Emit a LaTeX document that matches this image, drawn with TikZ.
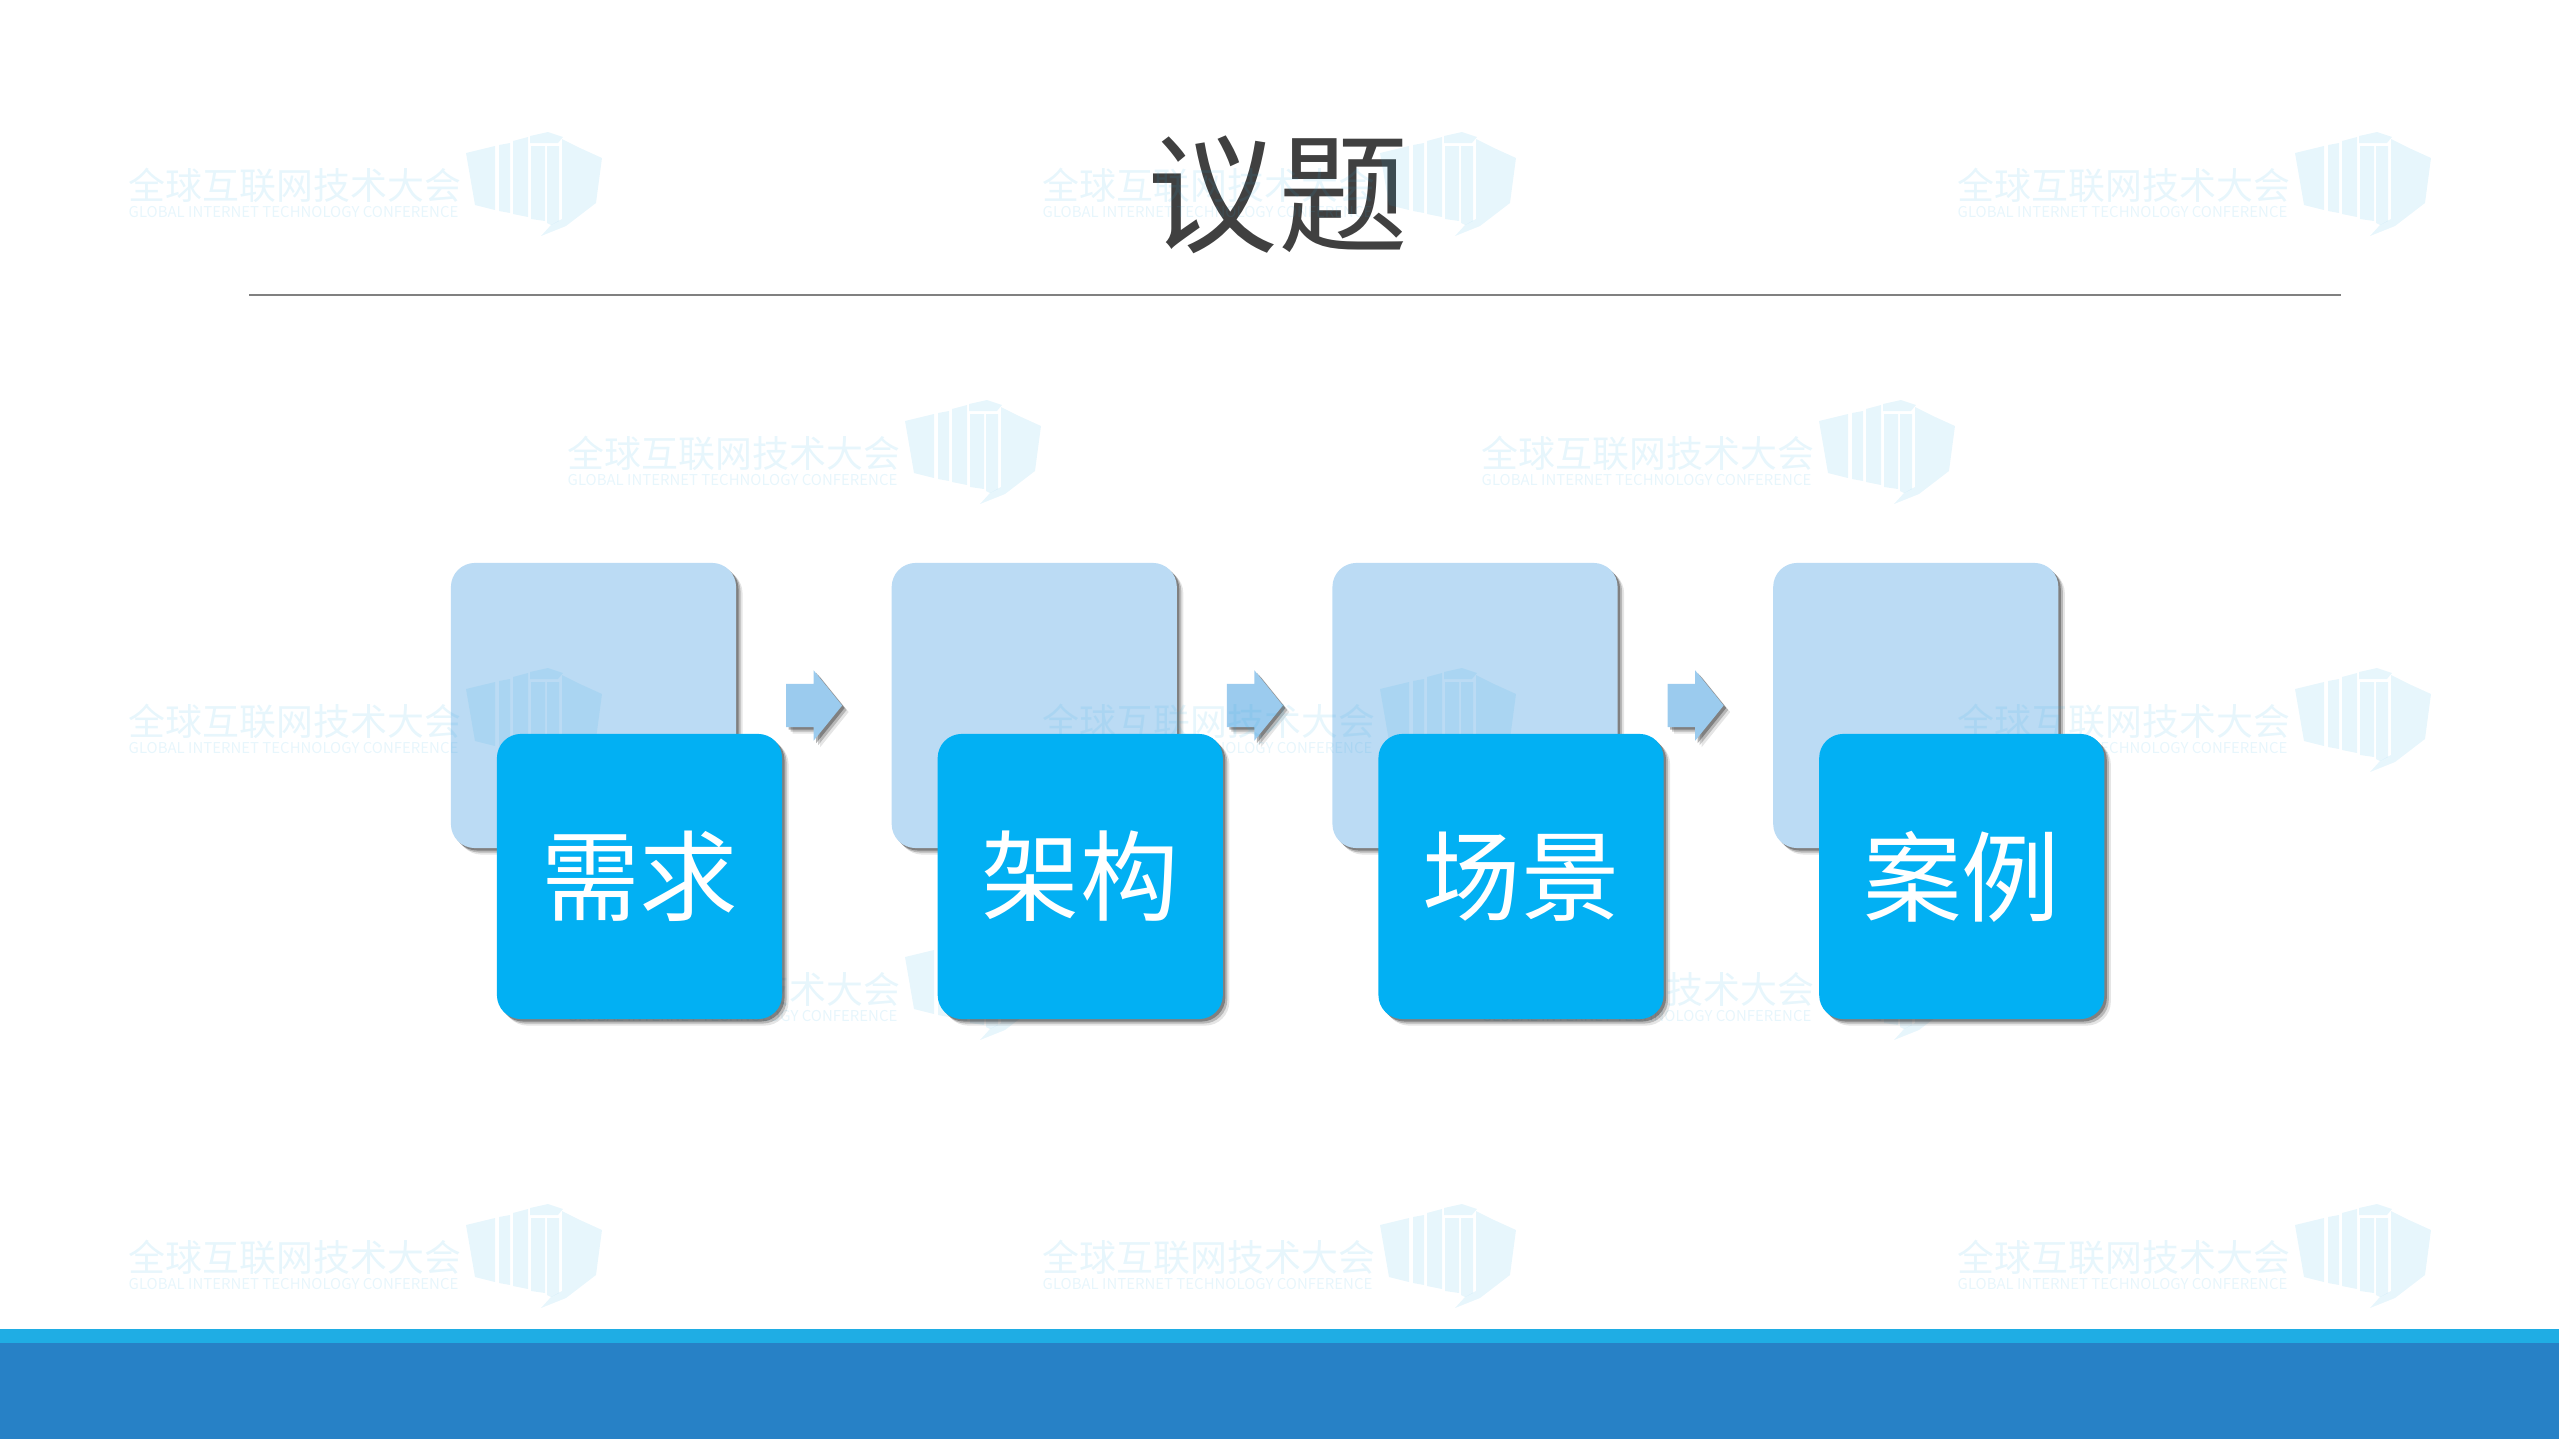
\documentclass[tikz,border=0pt]{standalone}
\usepackage{fontspec}
\setmainfont{Noto Sans CJK SC}
\usetikzlibrary{shapes.arrows, positioning, calc, shadows}
\definecolor{backcolor}{HTML}{BBDBF4}
\definecolor{frontcolor}{HTML}{02B0F3}
\definecolor{arrowcolor}{HTML}{9BCBEE}
\definecolor{titlecolor}{HTML}{404040}
\definecolor{markcolor}{HTML}{29ABE2}
\definecolor{stripcolor}{HTML}{1FADE4}
\definecolor{bandcolor}{HTML}{2781C6}
\tikzset{
    softshadow/.style={
        drop shadow={shadow xshift=.065cm, shadow yshift=-.065cm, fill=black, opacity=.1},
        drop shadow={shadow xshift=.045cm, shadow yshift=-.045cm, fill=black, opacity=.2},
        drop shadow={shadow xshift=.025cm, shadow yshift=-.025cm, fill=black, opacity=.3}},
    backbox/.style={fill=backcolor, rounded corners=.24cm, minimum size=2.85cm, inner sep=0pt, outer sep=0pt, softshadow},
    frontbox/.style={fill=frontcolor, rounded corners=.24cm, minimum size=2.85cm, inner sep=0pt, outer sep=0pt, text=white, font=\fontsize{28}{30}\selectfont, softshadow},
    nextarrow/.style={single arrow, fill=arrowcolor, minimum height=.56cm, inner xsep=.14cm, inner ysep=.21cm, outer sep=0pt, single arrow head extend=.135cm, single arrow head indent=0pt, single arrow tip angle=102, softshadow},
    watermark/.pic={
        \begin{scope}[opacity=.11]
            \node[anchor=west, inner sep=0pt, text=markcolor, font=\fontsize{10.5}{12}\selectfont] (-cn) at (0,1) {全球互联网技术大会};
            \node[anchor=west, inner sep=0pt, text=markcolor, font=\fontsize{4.25}{5}\selectfont] (-en) at (0,28) {GLOBAL INTERNET TECHNOLOGY CONFERENCE};
            \begin{scope}[shift={(332,-59)}, fill=markcolor]
                \fill (6,28) -- (35,21) -- (35,85) -- (15,80) -- cycle;
                \fill (39,20) -- (50,18) -- (50,88) -- (39,86) -- cycle;
                \fill (53,16) -- (68,12) -- (68,92) -- (53,89) -- cycle;
                \fill (70,11) -- (88,7) -- (103,12) -- (98,18) -- (70,18) -- cycle;
                \fill (71,21) -- (85,21) -- (85,96) -- (71,94) -- cycle;
                \fill (87,21) -- (99,21) -- (99,96) -- (91,100) -- (87,98) -- cycle;
                \fill (102,14) -- (120,23) -- (142,33) -- (136,78) -- (106,101) -- (81,111) -- (91,100) -- (102,94) -- cycle;
            \end{scope}
        \end{scope}
    }
}
\begin{document}
\begin{tikzpicture}[x=.01cm, y=-.01cm]
    \useasboundingbox (0,0) rectangle (2559,1439);

    % Title and rule
    \node[inner sep=0pt, text=titlecolor, font=\fontsize{37}{40}\selectfont] (title) at (1278,195) {议题};
    \coordinate (ruleleft) at (249,295);
    \coordinate (ruleright) at (2341,295);
    \draw[color=black!50, line width=.015cm] (ruleleft) -- (ruleright);

    % Footer
    \fill[stripcolor] (0,1329) rectangle (2559,1343);
    \fill[bandcolor] (0,1343) rectangle (2559,1439);

    % Back boxes and arrows
    \node[backbox] (needback) at (593.5,705.5) {};
    \node[nextarrow, right=.5cm of needback] (arrowone) {};
    \node[backbox, right=1.555cm of needback] (archback) {};
    \node[nextarrow, right=.5cm of archback] (arrowtwo) {};
    \node[backbox, right=1.555cm of archback] (sceneback) {};
    \node[nextarrow, right=.5cm of sceneback] (arrowthree) {};
    \node[backbox, right=1.555cm of sceneback] (caseback) {};

    % Watermarks
    \foreach \wx in {128,1042,1957}
        \foreach \wy in {184,720,1256}
            \pic (mark\wx\wy) at (\wx,\wy) {watermark};
    \foreach \wx in {567,1481}
        \foreach \wy in {452,988}
            \pic (mark\wx\wy) at (\wx,\wy) {watermark};

    % Front boxes
    \node[frontbox] (need) at ($(needback)+(46,171)$) {需求};
    \node[frontbox] (arch) at ($(archback)+(46,171)$) {架构};
    \node[frontbox] (scene) at ($(sceneback)+(46,171)$) {场景};
    \node[frontbox] (case) at ($(caseback)+(46,171)$) {案例};
\end{tikzpicture}
\end{document}
